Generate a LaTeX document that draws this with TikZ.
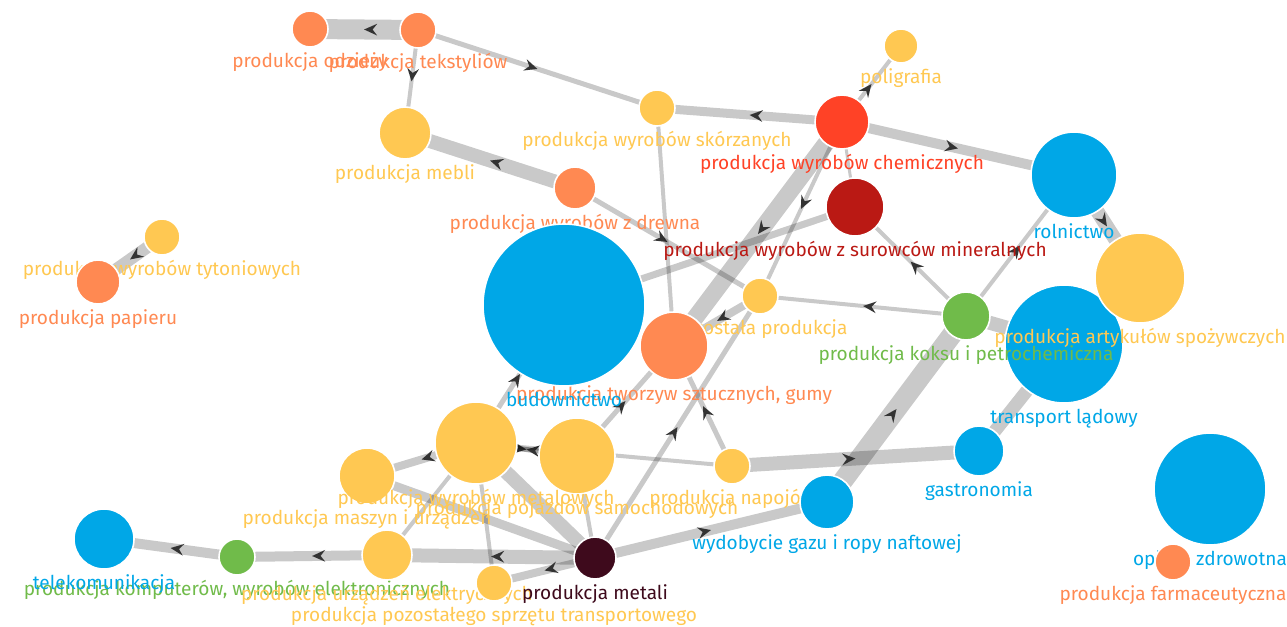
\documentclass[tikz,border=0pt]{standalone}
\usepackage{fontspec}
\setmainfont{Fira Sans}
\usetikzlibrary{arrows.meta,decorations.markings,backgrounds}

\definecolor{sBlue}{RGB}{0,167,231}
\definecolor{sOrange}{RGB}{255,137,82}
\definecolor{sYellow}{RGB}{255,200,82}
\definecolor{sRed}{RGB}{255,66,38}
\definecolor{sBrick}{RGB}{186,25,20}
\definecolor{sGreen}{RGB}{112,187,74}
\definecolor{sMaroon}{RGB}{62,10,28}

\begin{document}
\begin{tikzpicture}[x=0.75pt,y=0.75pt,yscale=-1,xscale=1,
  every node/.style={font=\fontsize{14.3}{17}\selectfont},
  label distance=4pt,
  sector/.style 2 args={circle,draw=white,line width=1.2pt,inner sep=0pt,fill=#1,minimum size=#2*1.5pt},
  lab/.style={text=#1,inner sep=0pt,text height=10.4pt,text depth=3pt},
  band/.style={line width=#1*0.75pt,draw=black,draw opacity=0.21},
  tomid/.style={postaction={decorate},decoration={markings,mark=at position 0.5 with {\arrow{Stealth[length=10pt,width=9pt,inset=3.5pt,line width=0.1pt,color=black!80]}}}}
]
\useasboundingbox (0,0) rectangle (1287,627);

% Text Node
\node [sector={sOrange}{18},label={[lab=sOrange]below:produkcja odzieży}] (odziez) at (310,29) {};
% Text Node
\node [sector={sOrange}{18},label={[lab=sOrange]below:produkcja tekstyliów}] (tekstylia) at (418,30) {};
% Text Node
\node [sector={sYellow}{26},label={[lab=sYellow]below:produkcja mebli}] (meble) at (405,133) {};
% Text Node
\node [sector={sYellow}{18},label={[lab=sYellow]below:produkcja wyrobów skórzanych}] (skorzane) at (657,108) {};
% Text Node
\node [sector={sYellow}{17},label={[lab=sYellow]below:poligrafia}] (poligrafia) at (901,46) {};
% Text Node
\node [sector={sRed}{27},label={[lab=sRed]below:produkcja wyrobów chemicznych}] (chemia) at (842,122) {};
% Text Node
\node [sector={sBrick}{29},label={[lab=sBrick]below:produkcja wyrobów z surowców mineralnych}] (mineraly) at (855,207) {};
% Text Node
\node [sector={sOrange}{21},label={[lab=sOrange]below:produkcja wyrobów z drewna}] (drewno) at (575,188) {};
% Text Node
\node [sector={sBlue}{43},label={[lab=sBlue]below:rolnictwo}] (rolnictwo) at (1074,175) {};
% Text Node
\node [sector={sBlue}{59},label={[lab=sBlue]below:transport lądowy}] (transport) at (1064,344) {};
% Text Node
\node [sector={sGreen}{24},label={[lab=sGreen]below:produkcja koksu i petrochemiczna}] (koks) at (966,316) {};
% Text Node
\node [sector={sYellow}{45},label={[lab=sYellow]below:produkcja artykułów spożywczych}] (spozywcze) at (1140,278) {};
% Text Node
\node [sector={sYellow}{18},label={[lab=sYellow]below:pozostała produkcja}] (pozostala) at (760,296) {};
% Text Node
\node [sector={sOrange}{34},label={[lab=sOrange]below:{produkcja tworzyw sztucznych, gumy}}] (tworzywa) at (674,346) {};
% Text Node
\node [sector={sBlue}{81},label={[lab=sBlue]below:budownictwo}] (budownictwo) at (564,305) {};
% Text Node
\node [sector={sYellow}{18},label={[lab=sYellow]below:produkcja wyrobów tytoniowych}] (tyton) at (162,237) {};
% Text Node
\node [sector={sOrange}{22},label={[lab=sOrange]below:produkcja papieru}] (papier) at (98,282) {};
% Text Node
\node [sector={sBlue}{56},label={[lab=sBlue]below:opieka zdrowotna}] (opieka) at (1210,489) {};
% Text Node
\node [sector={sOrange}{18},label={[lab=sOrange]below:produkcja farmaceutyczna}] (farmacja) at (1173,562) {};
% Text Node
\node [sector={sBlue}{25},label={[lab=sBlue]below:gastronomia}] (gastronomia) at (979,451) {};
% Text Node
\node [sector={sYellow}{18},label={[lab=sYellow]below:produkcja napojów}] (napoje) at (732,466) {};
% Text Node
\node [sector={sBlue}{27},label={[lab=sBlue]below:wydobycie gazu i ropy naftowej}] (wydobycie) at (827,502) {};
% Text Node
\node [sector={sYellow}{28},label={[lab=sYellow]below:produkcja maszyn i urządzeń}] (maszyny) at (367,476) {};
% Text Node
\node [sector={sYellow}{38},label={[lab=sYellow]below:produkcja pojazdów samochodowych}] (pojazdy) at (577,456) {};
% Text Node
\node [sector={sYellow}{41},label={[lab=sYellow]below:produkcja wyrobów metalowych}] (metalowe) at (476,443) {};
% Text Node
\node [sector={sGreen}{18},label={[lab=sGreen]below:{produkcja komputerów, wyrobów elektronicznych}}] (komputery) at (237,557) {};
% Text Node
\node [sector={sBlue}{30},label={[lab=sBlue]below:telekomunikacja}] (telekom) at (104,539) {};
% Text Node
\node [sector={sYellow}{25},label={[lab=sYellow]below:produkcja urządzeń elektrycznych}] (urzadzenia) at (387,555) {};
% Text Node
\node [sector={sYellow}{18},label={[lab=sYellow]below:produkcja pozostałego sprzętu transportowego}] (sprzet) at (494,583) {};
% Text Node
\node [sector={sMaroon}{21},label={[lab=sMaroon]below:produkcja metali}] (metale) at (595,558) {};

\begin{scope}[on background layer]
%Straight Lines
\draw [band=20,tomid] (tekstylia.center) -- (odziez.center);
\draw [band=5,tomid] (tekstylia.center) -- (skorzane.center);
\draw [band=4,tomid] (tekstylia.center) -- (meble.center);
\draw [band=14,tomid] (drewno.center) -- (meble.center);
\draw [band=9,tomid] (chemia.center) -- (skorzane.center);
\draw [band=4,tomid] (chemia.center) -- (poligrafia.center);
\draw [band=10,tomid] (chemia.center) -- (rolnictwo.center);
\draw [band=17,tomid] (chemia.center) -- (tworzywa.center);
\draw [band=4,tomid] (chemia.center) -- (pozostala.center);
\draw [band=3] (chemia.center) -- (mineraly.center);
\draw [band=7] (mineraly.center) -- (budownictwo.center);
\draw [band=5,tomid] (drewno.center) -- (pozostala.center);
\draw [band=4] (skorzane.center) -- (tworzywa.center);
\draw [band=8,tomid] (pozostala.center) -- (tworzywa.center);
%Straight Lines
\draw [band=4,tomid] (koks.center) -- (pozostala.center);
\draw [band=4,tomid] (koks.center) -- (mineraly.center);
\draw [band=4,tomid] (koks.center) -- (rolnictwo.center);
\draw [band=14,tomid] (rolnictwo.center) -- (spozywcze.center);
\draw [band=14] (koks.center) -- (transport.center);
\draw [band=20,tomid] (wydobycie.center) -- (koks.center);
\draw [band=14,tomid] (napoje.center) -- (gastronomia.center);
\draw [band=13] (transport.center) -- (gastronomia.center);
\draw [band=12,tomid] (tyton.center) -- (papier.center);
%Straight Lines
\draw [band=10,tomid] (metale.center) -- (wydobycie.center);
\draw [band=5,tomid] (metale.center) -- (pozostala.center);
\draw [band=5,tomid] (napoje.center) -- (tworzywa.center);
\draw [band=5,tomid] (metalowe.center) -- (budownictwo.center);
\draw [band=5,tomid] (pojazdy.center) -- (tworzywa.center);
\draw [band=5,tomid] (metalowe.center) -- (pojazdy.center);
\draw [band=5,tomid] (pojazdy.center) -- (metalowe.center);
\draw [band=4] (metalowe.center) -- (napoje.center);
\draw [band=4] (pojazdy.center) -- (metale.center);
\draw [band=14] (metalowe.center) -- (metale.center);
\draw [band=9] (maszyny.center) -- (metale.center);
\draw [band=8,tomid] (metalowe.center) -- (maszyny.center);
\draw [band=4] (metalowe.center) -- (sprzet.center);
\draw [band=4] (metalowe.center) -- (urzadzenia.center);
%Straight Lines
\draw [band=14,tomid] (metale.center) -- (urzadzenia.center);
\draw [band=8,tomid] (metale.center) -- (sprzet.center);
\draw [band=10,tomid] (urzadzenia.center) -- (komputery.center);
\draw [band=10,tomid] (komputery.center) -- (telekom.center);
\end{scope}

\end{tikzpicture}
\end{document}
